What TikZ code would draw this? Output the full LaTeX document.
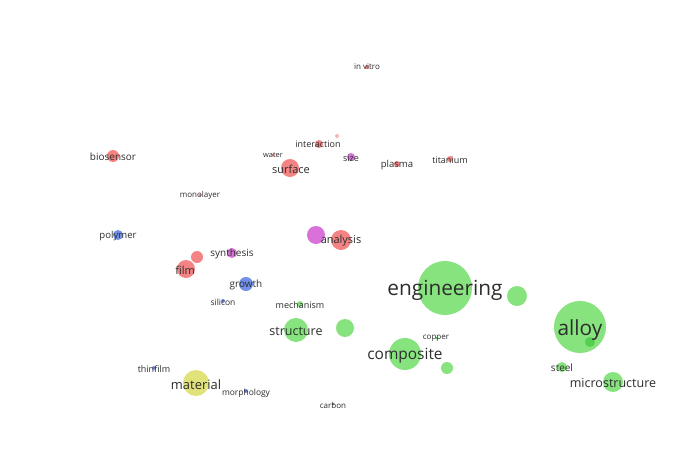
\documentclass[tikz,border=0pt]{standalone}
\usepackage{fontspec}
\setmainfont{Open Sans}
\usepackage{xcolor}
\definecolor{grn}{RGB}{122,224,112}
\definecolor{dgrn}{RGB}{70,200,70}
\definecolor{rd}{RGB}{243,118,118}
\definecolor{prp}{RGB}{214,98,214}
\definecolor{blu}{RGB}{98,132,228}
\definecolor{ylw}{RGB}{222,224,108}
\definecolor{txt}{RGB}{45,45,45}

\begin{document}
\begin{tikzpicture}[x=0.025cm,y=-0.025cm,
  bub/.style={circle,inner sep=0pt,minimum size=#1*0.05cm,fill opacity=0.9},
  lbl/.style={text=txt,inner sep=0pt,font=\fontsize{#1}{#1}\selectfont}]
\useasboundingbox[fill=white] (0,0) rectangle (700,460);
% bubbles
\node[bub=2,fill=rd] (vitro-c) at (367,67) {};
\node[bub=2,fill=rd!60] (spot-c) at (337,136) {};
\node[bub=4,fill=rd] (interaction-c) at (319,144) {};
\node[bub=1.5,fill=rd] (water-c) at (273,155) {};
\node[bub=4,fill=prp] (size-c) at (351,157) {};
\node[bub=9,fill=rd] (surface-c) at (290,168) {};
\node[bub=3,fill=rd] (plasma-c) at (397,164) {};
\node[bub=3,fill=rd] (titanium-c) at (450,159) {};
\node[bub=6,fill=rd] (biosensor-c) at (113,156) {};
\node[bub=1.5,fill=rd] (monolayer-c) at (200,195) {};
\node[bub=5,fill=blu] (polymer-c) at (118,235) {};
\node[bub=9,fill=prp] (analysis2-c) at (316,235) {};
\node[bub=10,fill=rd] (analysis-c) at (341,240) {};
\node[bub=5,fill=prp] (synthesis-c) at (232,253) {};
\node[bub=6,fill=rd] (film2-c) at (197,257) {};
\node[bub=9,fill=rd] (film-c) at (186,269) {};
\node[bub=7,fill=blu] (growth-c) at (246,284) {};
\node[bub=2,fill=blu] (silicon-c) at (223,301) {};
\node[bub=3,fill=grn] (mechanism-c) at (300,304) {};
\node[bub=12,fill=grn] (structure-c) at (296,330) {};
\node[bub=9,fill=grn] (struct2-c) at (345,328) {};
\node[bub=27,fill=grn] (engineering-c) at (445,288) {};
\node[bub=10,fill=grn] (eng2-c) at (517,296) {};
\node[bub=1.5,fill=dgrn] (copper-c) at (437,338) {};
\node[bub=16,fill=grn] (composite-c) at (405,354) {};
\node[bub=6,fill=grn] (comp2-c) at (447,368) {};
\node[bub=26,fill=grn] (alloy-c) at (580,327) {};
\node[bub=5,fill=dgrn!80!grn] (alloy2-c) at (590,342) {};
\node[bub=5,fill=grn] (steel-c) at (562,367) {};
\node[bub=10,fill=grn] (microstructure-c) at (613,382) {};
\node[bub=2,fill=blu] (thinfilm-c) at (154,368) {};
\node[bub=13,fill=ylw] (material-c) at (196,383) {};
\node[bub=2,fill=blu] (morphology-c) at (246,391) {};
\node[bub=1.5,fill=txt!60] (carbon-c) at (333,404) {};
% labels
\node[lbl=5.7pt] (vitro) at (367,67) {in vitro};
\node[lbl=6.4pt] (interaction) at (318,144) {interaction};
\node[lbl=5.3pt] (water) at (273,155) {water};
\node[lbl=6.4pt] (size) at (351,158) {size};
\node[lbl=7.8pt] (surface) at (291,169) {surface};
\node[lbl=6.8pt] (plasma) at (397,165) {plasma};
\node[lbl=6.4pt] (titanium) at (450,160) {titanium};
\node[lbl=7.1pt] (biosensor) at (113,157) {biosensor};
\node[lbl=5.7pt] (monolayer) at (200,195) {monolayer};
\node[lbl=6.8pt] (polymer) at (118,236) {polymer};
\node[lbl=7.8pt] (analysis) at (341,241) {analysis};
\node[lbl=7.1pt] (synthesis) at (232,254) {synthesis};
\node[lbl=7.8pt] (film) at (185,270) {film};
\node[lbl=7.1pt] (growth) at (246,285) {growth};
\node[lbl=6pt] (silicon) at (223,302) {silicon};
\node[lbl=6.4pt] (mechanism) at (300,305) {mechanism};
\node[lbl=8.9pt] (structure) at (296,331) {structure};
\node[lbl=14.8pt] (engineering) at (445,290) {engineering};
\node[lbl=5.7pt] (copper) at (436,338) {copper};
\node[lbl=11pt] (composite) at (405,355.5) {composite};
\node[lbl=14.8pt] (alloy) at (580,330) {alloy};
\node[lbl=7.1pt] (steel) at (562,368) {steel};
\node[lbl=8.9pt] (microstructure) at (613,383) {microstructure};
\node[lbl=6.4pt] (thinfilm) at (154,369) {thinfilm};
\node[lbl=9.2pt] (material) at (196,385) {material};
\node[lbl=6pt] (morphology) at (246,393) {morphology};
\node[lbl=5.7pt] (carbon) at (333,405) {carbon};
\end{tikzpicture}
\end{document}
